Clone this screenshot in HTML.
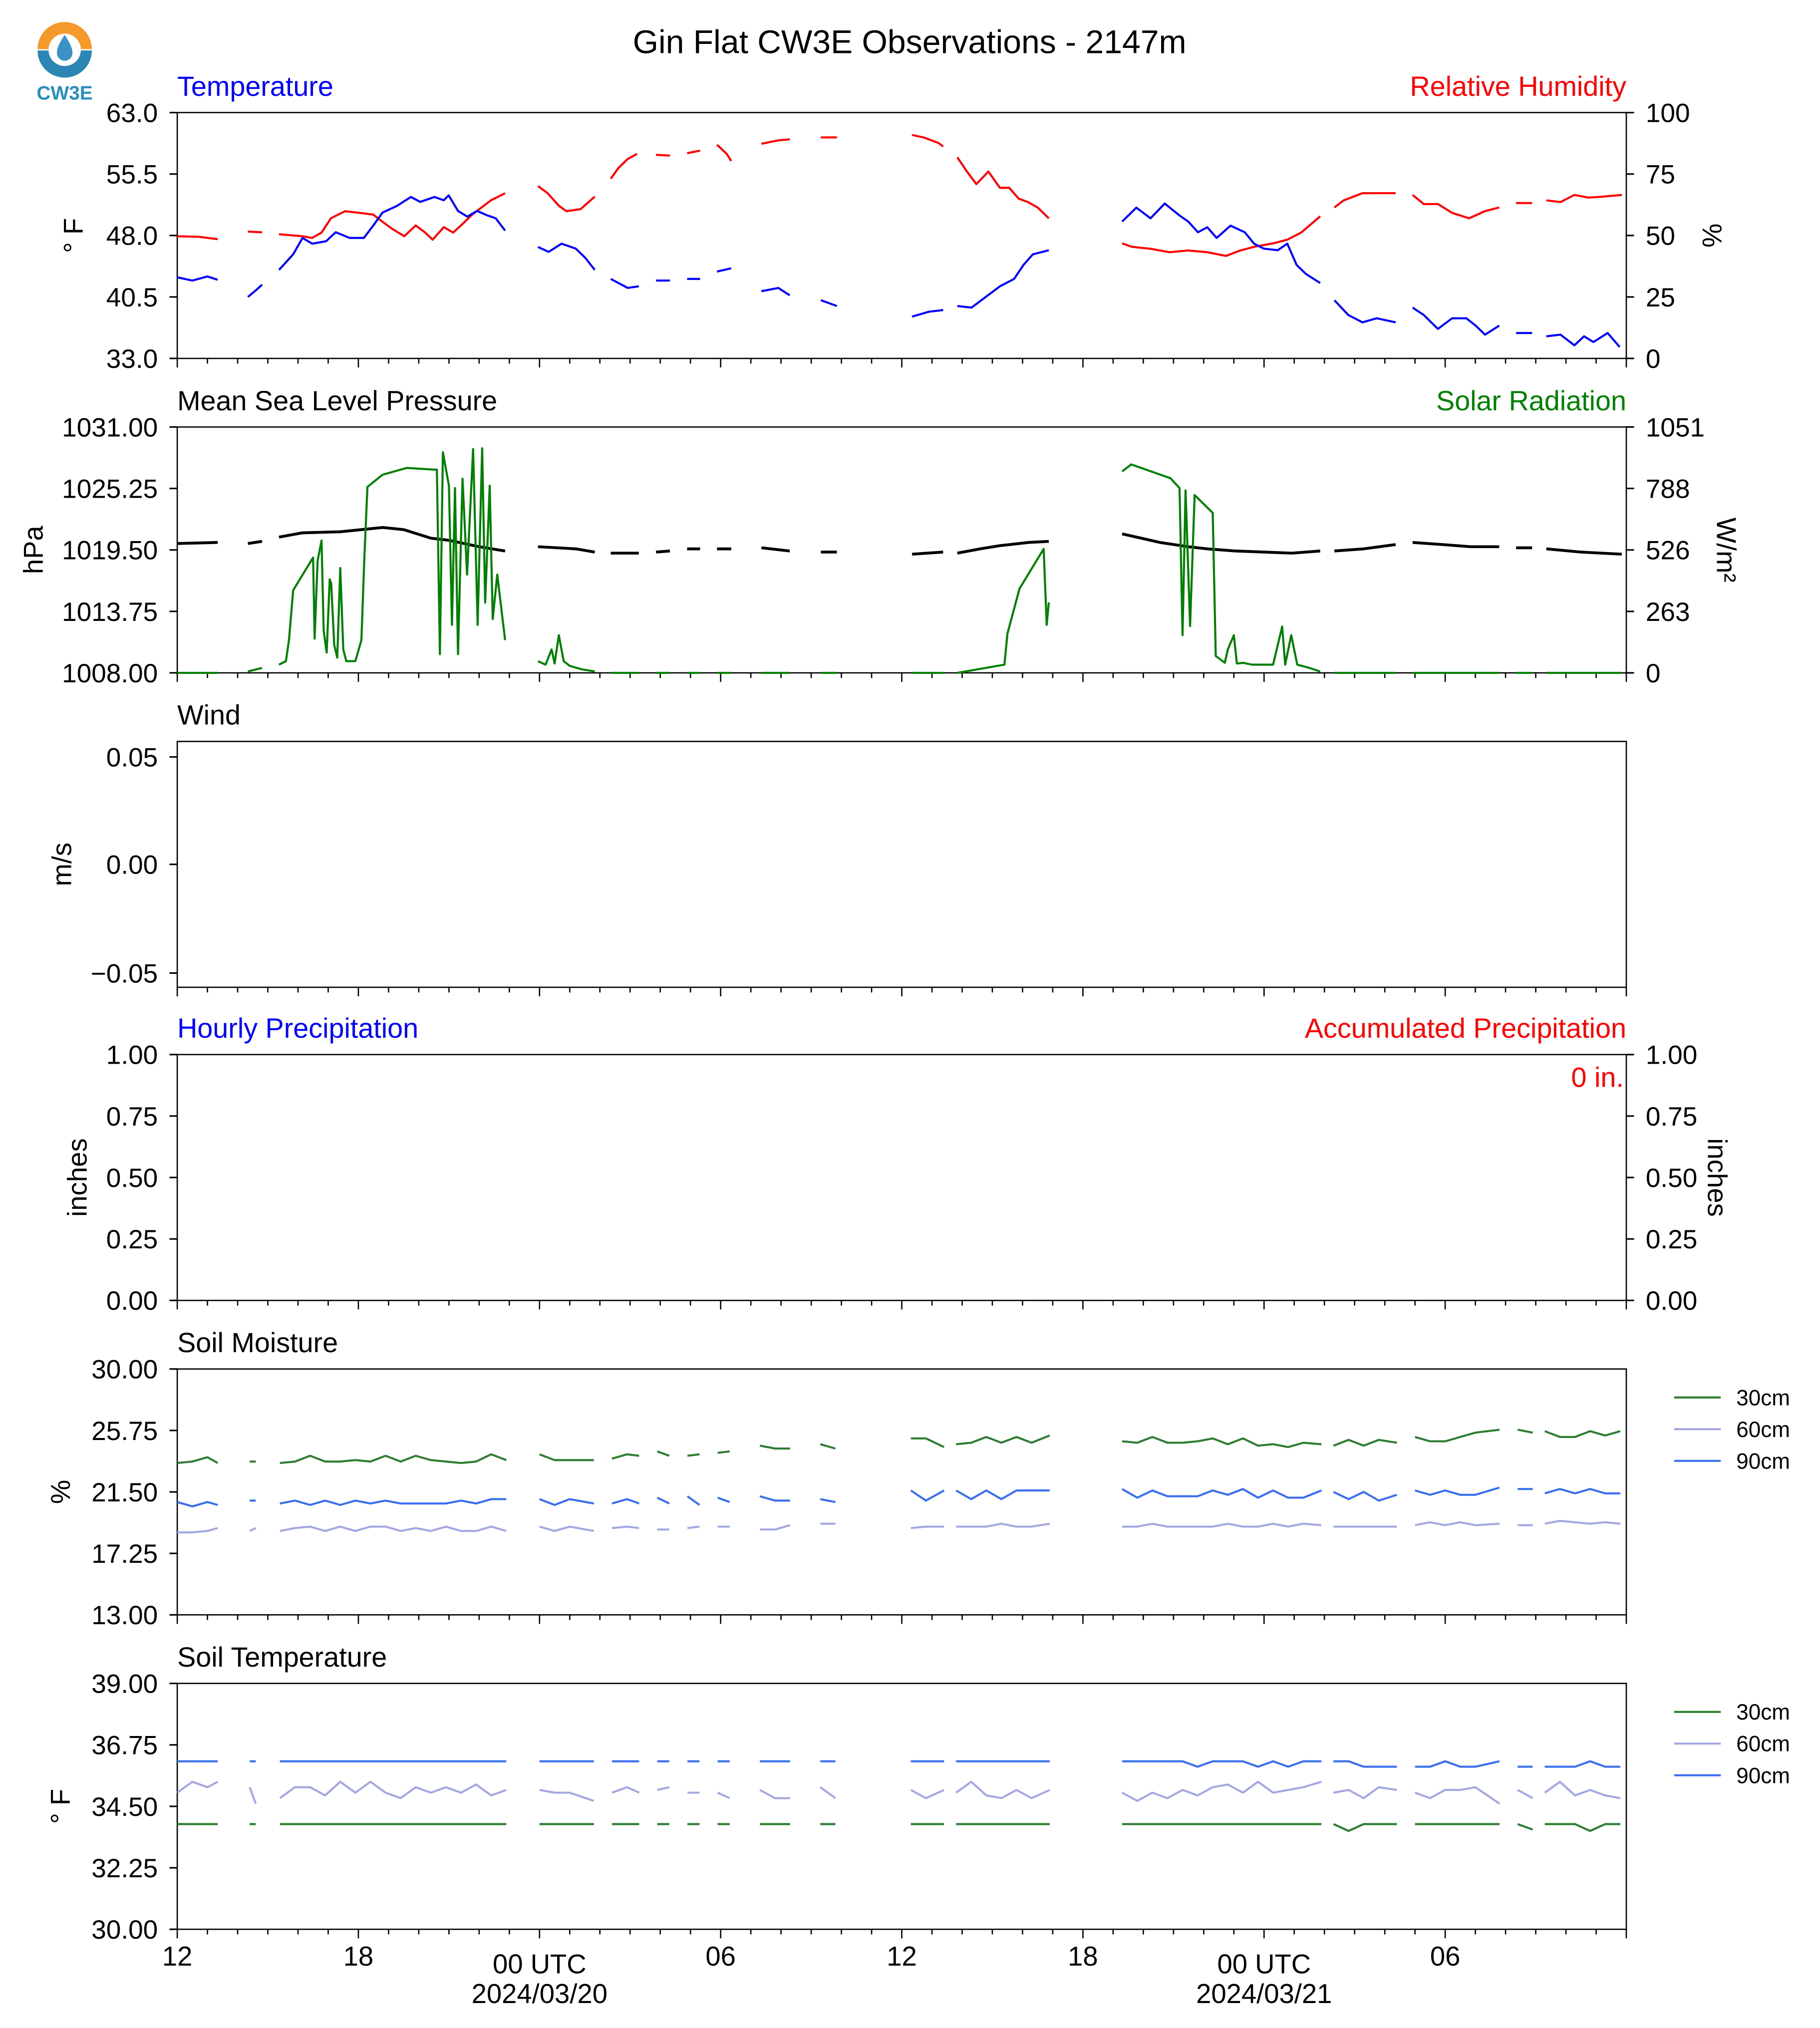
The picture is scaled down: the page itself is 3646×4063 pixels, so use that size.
<!DOCTYPE html>
<html><head><meta charset="utf-8"><title>Gin Flat CW3E Observations</title>
<style>
html,body{margin:0;padding:0;background:#fff;}
svg{display:block;font-family:"Liberation Sans",Arial,sans-serif;}
</style></head>
<body>
<svg id="chart" width="3646" height="4063" viewBox="0 0 1406.7 1567.3" preserveAspectRatio="none" xmlns="http://www.w3.org/2000/svg">
<rect x="0" y="0" width="1410" height="1570" fill="#fff"/>
<g>
  <path d="M29,38 A21,21 0 0 1 71,38 Z" fill="#f39a2a"/>
  <path d="M29,39 A21,21 0 0 0 71,39 Z" fill="#2b86b3"/>
  <circle cx="50" cy="38.5" r="12.5" fill="#fff"/>
  <path d="M50,27 C46,33 44,37 44,41 A6,6 0 0 0 56,41 C56,37 54,33 50,27 Z" fill="#3a93c4"/>
  <text x="50" y="77" text-anchor="middle" font-size="15" font-weight="bold" fill="#2a8fbd">CW3E</text>
</g>
<text x="703" y="41" text-anchor="middle" font-size="25.5" fill="#000">Gin Flat CW3E Observations - 2147m</text>
<g id="layer"></g>
</svg>
<script>
// ---------------- DATA ----------------
const HOUR_TICK_LABELS = ["12","18","00 UTC","06","12","18","00 UTC","06"];
const DATE_LABELS = ["2024/03/20","2024/03/21"];

const TEMP_T = [0,0.5,1,1.34,null,2.34,2.6,2.81,null,3.37,3.84,4.15,4.47,4.93,5.25,5.71,6.18,6.49,6.80,7.27,7.74,8.05,8.52,8.83,8.99,9.30,9.61,9.93,10.24,10.55,10.86,null,11.95,12.3,12.73,13.2,13.51,13.83,null,14.36,14.92,15.29,null,15.86,16.32,null,16.89,17.32,null,17.88,18.35,null,19.35,19.91,20.29,null,21.32,21.85,null,24.34,24.9,25.37,null,25.84,26.31,26.78,27.25,27.72,28.03,28.34,28.87,null,31.30,31.77,32.24,32.71,33.18,33.49,33.81,34.12,34.43,34.89,35.36,35.67,35.99,36.45,36.77,37.08,37.39,37.86,null,38.33,38.79,39.26,39.73,40.36,null,40.92,41.29,41.76,42.23,42.70,43.01,43.32,43.79,null,44.35,44.88,null,45.35,45.82,46.28,46.60,46.91,47.38,47.78];
const TEMP_F = [42.9,42.5,43.0,42.6,null,40.5,41.3,42.0,null,43.8,45.7,47.7,47.0,47.3,48.4,47.7,47.7,49.2,50.8,51.6,52.7,52.1,52.7,52.3,52.9,51.0,50.3,51.0,50.5,50.1,48.6,null,46.6,46.0,47.0,46.4,45.3,43.8,null,42.7,41.6,41.8,null,42.5,42.5,null,42.7,42.7,null,43.6,44.0,null,41.2,41.6,40.7,null,40.1,39.4,null,38.1,38.7,38.9,null,39.4,39.2,40.5,41.8,42.7,44.4,45.7,46.2,null,49.7,51.4,50.1,51.9,50.5,49.7,48.4,49.0,47.7,49.2,48.4,47.0,46.4,46.2,47.0,44.4,43.3,42.2,null,40.1,38.3,37.4,37.9,37.4,null,39.2,38.3,36.6,37.9,37.9,37.0,35.9,37.0,null,36.1,36.1,null,35.7,35.9,34.6,35.7,35.0,36.1,34.4];

const RH_T = [0,0.7,1.34,null,2.34,2.81,null,3.37,4.15,4.47,4.78,5.09,5.56,6.03,6.49,6.80,7.12,7.52,7.90,8.21,8.46,8.83,9.14,9.46,9.77,10.08,10.39,10.86,null,11.95,12.27,12.64,12.89,13.36,13.83,null,14.36,14.61,14.92,15.23,null,15.86,16.32,null,16.89,17.32,null,17.88,18.20,18.35,null,19.35,19.91,20.29,null,21.32,21.85,null,24.34,24.75,25.22,25.37,null,25.84,26.16,26.47,26.87,27.25,27.56,27.87,28.18,28.50,28.87,null,31.30,31.62,32.24,32.87,33.49,34.12,34.74,35.21,35.67,36.30,36.77,37.23,37.86,null,38.33,38.64,39.26,40.36,null,40.92,41.29,41.76,42.23,42.79,43.32,43.79,null,44.35,44.88,null,45.35,45.82,46.28,46.75,47.22,47.85];
const RH_PCT = [49.7,49.5,48.5,null,51.6,51.3,null,50.5,49.7,49.0,51.2,57.0,59.9,59.2,58.5,55.6,52.7,49.7,54.1,51.2,48.3,53.4,51.2,54.8,58.5,61.4,64.3,67.2,null,70.1,67.2,62.1,59.9,60.7,65.8,null,73.1,77.4,81.1,83.2,null,82.8,82.5,null,83.5,84.5,null,86.9,83.2,80.3,null,87.3,88.7,89.1,null,89.9,89.9,null,90.9,89.8,87.6,86.2,null,81.8,76.0,70.9,76.0,69.4,69.4,65.0,63.6,61.4,57.0,null,46.8,45.4,44.6,43.2,43.9,43.2,41.7,43.9,45.4,46.8,48.3,51.2,57.8,null,61.4,64.3,67.2,67.2,null,66.5,62.8,62.8,59.2,57.0,59.9,61.4,null,63.2,63.2,null,64.3,63.6,66.5,65.4,65.8,66.5];

const PRES_T = [0,1.34,null,2.34,2.81,null,3.37,4.15,5.4,6.8,7.5,8.4,9.0,10.0,10.86,null,11.95,13.2,13.83,null,14.36,15.29,null,15.86,16.32,null,16.89,17.32,null,17.88,18.35,null,19.35,20.29,null,21.32,21.85,null,24.34,25.37,null,25.84,26.6,27.25,28.2,28.87,null,31.30,31.93,32.55,33.49,34.12,35.05,35.99,36.92,37.86,null,38.33,39.3,40.36,null,40.92,41.92,42.85,43.79,null,44.35,44.88,null,45.35,46.5,47.85];
const PRES_HPA = [1020.1,1020.2,null,1020.1,1020.3,null,1020.7,1021.1,1021.2,1021.6,1021.4,1020.6,1020.4,1019.8,1019.4,null,1019.8,1019.6,1019.3,null,1019.2,1019.2,null,1019.3,1019.4,null,1019.6,1019.6,null,1019.6,1019.6,null,1019.7,1019.4,null,1019.3,1019.3,null,1019.1,1019.3,null,1019.2,1019.6,1019.9,1020.2,1020.3,null,1021.0,1020.6,1020.2,1019.8,1019.6,1019.4,1019.3,1019.2,1019.4,null,1019.4,1019.6,1020.0,null,1020.2,1020.0,1019.8,1019.8,null,1019.7,1019.7,null,1019.6,1019.3,1019.1];

const SOLAR_T = [0,1.34,null,2.34,2.81,null,3.37,3.6,3.7,3.84,4.5,4.55,4.65,4.78,4.85,4.95,5.05,5.1,5.2,5.3,5.4,5.5,5.6,5.9,6.1,6.2,6.3,6.8,7.6,8.5,8.6,8.7,8.8,9.0,9.1,9.2,9.3,9.45,9.6,9.8,9.95,10.1,10.2,10.35,10.45,10.6,10.86,null,11.95,12.2,12.4,12.5,12.64,12.8,13.0,13.4,13.83,null,14.36,15.29,null,15.86,16.32,null,16.89,17.32,null,17.88,18.35,null,19.35,20.29,null,21.32,21.85,null,24.34,25.37,null,25.84,27.4,27.5,27.9,28.7,28.8,28.87,null,31.30,31.6,32.9,33.2,33.3,33.4,33.55,33.7,34.3,34.4,34.7,34.8,35.0,35.1,35.3,35.6,36.3,36.6,36.7,36.9,37.1,37.5,37.86,null,38.33,40.36,null,40.92,43.79,null,44.35,44.88,null,45.35,47.85];
const SOLAR_W = [0,0,null,6,21,null,35,50,139,353,493,146,480,566,180,87,400,382,120,65,448,100,50,50,140,500,795,847,876,869,869,80,943,800,205,790,80,830,420,957,205,960,300,800,230,420,140,null,50,35,100,40,161,50,30,15,6,null,0,0,null,0,0,null,0,0,null,0,0,null,0,0,null,0,0,null,0,0,null,0,35,168,360,530,205,301,null,861,891,832,790,161,780,200,760,684,72,43,100,161,40,43,35,35,198,35,161,35,21,6,null,0,0,null,0,0,null,0,0,null,0,0];

const SOIL_T = [0,0.5,1,1.34,null,2.4,2.6,null,3.4,3.9,4.4,4.9,5.4,5.9,6.4,6.9,7.4,7.9,8.4,8.9,9.4,9.9,10.4,10.9,null,12,12.5,13,13.8,null,14.4,14.9,15.3,null,15.9,16.3,null,16.9,17.3,null,17.9,18.3,null,19.3,19.8,20.3,null,21.3,21.8,null,24.3,24.8,25.4,null,25.8,26.3,26.8,27.3,27.8,28.3,28.9,null,31.3,31.8,32.3,32.8,33.3,33.8,34.3,34.8,35.3,35.8,36.3,36.8,37.3,37.9,null,38.3,38.8,39.3,39.8,40.4,null,41,41.5,42,42.5,43,43.8,null,44.4,44.9,null,45.3,45.8,46.3,46.8,47.3,47.8];
const SM_30 = [23.5,23.6,23.9,23.5,null,23.6,23.6,null,23.5,23.6,24.0,23.6,23.6,23.7,23.6,24.0,23.6,24.0,23.7,23.6,23.5,23.6,24.1,23.7,null,24.1,23.7,23.7,23.7,null,23.8,24.1,24.0,null,24.3,24.0,null,24.0,24.1,null,24.2,24.3,null,24.7,24.5,24.5,null,24.8,24.5,null,25.2,25.2,24.6,null,24.8,24.9,25.3,24.9,25.3,24.9,25.4,null,25.0,24.9,25.3,24.9,24.9,25.0,25.2,24.8,25.2,24.7,24.8,24.6,24.9,24.8,null,24.7,25.1,24.7,25.1,24.9,null,25.3,25.0,25.0,25.3,25.6,25.8,null,25.8,25.6,null,25.7,25.3,25.3,25.7,25.4,25.7];
const SM_60 = [18.7,18.7,18.8,19.0,null,18.8,19.0,null,18.8,19.0,19.1,18.8,19.1,18.8,19.1,19.1,18.8,19.0,18.8,19.1,18.8,18.8,19.1,18.8,null,19.1,18.8,19.1,18.8,null,19.0,19.1,19.0,null,18.9,18.9,null,19.0,19.1,null,19.1,19.1,null,18.9,18.9,19.2,null,19.3,19.3,null,19.0,19.1,19.1,null,19.1,19.1,19.1,19.3,19.1,19.1,19.3,null,19.1,19.1,19.3,19.1,19.1,19.1,19.1,19.3,19.1,19.1,19.3,19.1,19.3,19.2,null,19.1,19.1,19.1,19.1,19.1,null,19.2,19.4,19.2,19.4,19.2,19.3,null,19.2,19.2,null,19.3,19.5,19.4,19.3,19.4,19.3];
const SM_90 = [20.8,20.5,20.8,20.6,null,20.9,20.9,null,20.7,20.9,20.6,20.9,20.6,20.9,20.7,20.9,20.7,20.7,20.7,20.7,20.9,20.7,21.0,21.0,null,21.0,20.6,21.0,20.7,null,20.7,21.0,20.7,null,21.1,20.7,null,21.2,20.6,null,21.1,20.8,null,21.2,20.9,20.9,null,21.0,20.8,null,21.6,20.9,21.6,null,21.6,21.0,21.6,21.0,21.6,21.6,21.6,null,21.7,21.1,21.6,21.2,21.2,21.2,21.6,21.3,21.7,21.1,21.6,21.1,21.1,21.6,null,21.5,21.0,21.5,20.9,21.3,null,21.6,21.3,21.6,21.3,21.3,21.8,null,21.7,21.7,null,21.4,21.7,21.4,21.7,21.4,21.4];

const ST_30 = [33.85,33.85,33.85,33.85,null,33.85,33.85,null,33.85,33.85,33.85,33.85,33.85,33.85,33.85,33.85,33.85,33.85,33.85,33.85,33.85,33.85,33.85,33.85,null,33.85,33.85,33.85,33.85,null,33.85,33.85,33.85,null,33.85,33.85,null,33.85,33.85,null,33.85,33.85,null,33.85,33.85,33.85,null,33.85,33.85,null,33.85,33.85,33.85,null,33.85,33.85,33.85,33.85,33.85,33.85,33.85,null,33.85,33.85,33.85,33.85,33.85,33.85,33.85,33.85,33.85,33.85,33.85,33.85,33.85,33.85,null,33.85,33.6,33.85,33.85,33.85,null,33.85,33.85,33.85,33.85,33.85,33.85,null,33.85,33.65,null,33.85,33.85,33.85,33.6,33.85,33.85];
const ST_60 = [35.0,35.4,35.2,35.4,null,35.2,34.6,null,34.8,35.2,35.2,34.9,35.4,35.0,35.4,35.0,34.8,35.2,35.0,35.2,35.0,35.3,34.9,35.1,null,35.1,35.0,35.0,34.7,null,35.0,35.2,35.0,null,35.1,35.2,null,35.0,35.0,null,35.0,34.8,null,35.1,34.8,34.8,null,35.2,34.8,null,35.1,34.8,35.1,null,35.0,35.4,34.9,34.8,35.1,34.8,35.1,null,35.0,34.7,35.0,34.8,35.1,34.9,35.2,35.3,35.0,35.4,35.0,35.1,35.2,35.4,null,35.0,35.1,34.8,35.2,35.1,null,35.0,34.8,35.1,35.1,35.2,34.6,null,35.1,34.8,null,35.0,35.4,34.9,35.1,34.9,34.8];
const ST_90 = [36.15,36.15,36.15,36.15,null,36.15,36.15,null,36.15,36.15,36.15,36.15,36.15,36.15,36.15,36.15,36.15,36.15,36.15,36.15,36.15,36.15,36.15,36.15,null,36.15,36.15,36.15,36.15,null,36.15,36.15,36.15,null,36.15,36.15,null,36.15,36.15,null,36.15,36.15,null,36.15,36.15,36.15,null,36.15,36.15,null,36.15,36.15,36.15,null,36.15,36.15,36.15,36.15,36.15,36.15,36.15,null,36.15,36.15,36.15,36.15,36.15,35.95,36.15,36.15,36.15,35.95,36.15,35.95,36.15,36.15,null,36.15,36.15,35.95,35.95,35.95,null,35.95,35.95,36.15,35.95,35.95,36.15,null,35.95,35.95,null,35.95,35.95,35.95,36.15,35.95,35.95];

const T_TICKS = ["63.0","55.5","48.0","40.5","33.0"];
const RH_TICKS = ["100","75","50","25","0"];
const P_TICKS = ["1031.00","1025.25","1019.50","1013.75","1008.00"];
const SR_TICKS = ["1051","788","526","263","0"];
const W_TICKS = ["0.05","0.00","\u22120.05"];
const PR_TICKS = ["1.00","0.75","0.50","0.25","0.00"];
const SM_TICKS = ["30.00","25.75","21.50","17.25","13.00"];
const ST_TICKS = ["39.00","36.75","34.50","32.25","30.00"];

// ---------------- LAYOUT ----------------
const NS = "http://www.w3.org/2000/svg";
const layer = document.getElementById('layer');
const X0 = 137, X1 = 1257, PH = 190, HOURS = 48;
const TOPS = [87, 330, 573, 815, 1058, 1301];
const TICK_FS = 20.5, TITLE_FS = 21.5;
function xs(h){ return X0 + h * (X1 - X0) / HOURS; }
function yScale(top, min, max){ return v => top + PH - (v - min) / (max - min) * PH; }

function mk(tag, attrs, parent){
  const e = document.createElementNS(NS, tag);
  for (const k in attrs) e.setAttribute(k, attrs[k]);
  (parent || layer).appendChild(e);
  return e;
}
function txt(x, y, s, size, color, anchor, parent){
  const t = mk('text', {x:x, y:y, 'font-size':size, fill:color, 'text-anchor':anchor||'start'}, parent);
  t.textContent = s;
  return t;
}
function seriesPath(ts, vs, ys, color, width, name){
  let d = '', pen = false;
  for (let i = 0; i < ts.length; i++){
    if (ts[i] === null || vs[i] === null){ pen = false; continue; }
    d += (pen ? 'L' : 'M') + xs(ts[i]).toFixed(2) + ',' + ys(vs[i]).toFixed(2);
    pen = true;
  }
  const p = mk('path', {d:d, fill:'none', stroke:color, 'stroke-width':width, 'stroke-linejoin':'round'});
  
  
  return p;
}

function panel(i, name, leftTicks, rightTicks){
  const top = TOPS[i];
  const g = mk('g', {});
  
  
  const box = mk('rect', {x:X0, y:top, width:X1-X0, height:PH, fill:'none', stroke:'#000', 'stroke-width':1}, g);
  
  
  for (let h = 0; h <= HOURS; h++){
    const major = h % 6 === 0;
    mk('line', {x1:xs(h), x2:xs(h), y1:top+PH, y2:top+PH+(major?7:4), stroke:'#000', 'stroke-width':1}, g);
  }
  if (leftTicks){
    const n = leftTicks.length;
    leftTicks.forEach((lab, k) => {
      const y = i === 2 ? [585, 668, 752][k] : top + k * PH / (n - 1);
      mk('line', {x1:X0-6, x2:X0, y1:y, y2:y, stroke:'#000', 'stroke-width':1.2}, g);
      const t = txt(X0-15, y+7.3, lab, TICK_FS, '#000', 'end', g);
      
      
    });
  }
  if (rightTicks){
    const n = rightTicks.length;
    rightTicks.forEach((lab, k) => {
      const y = top + k * PH / (n - 1);
      mk('line', {x1:X1, x2:X1+6, y1:y, y2:y, stroke:'#000', 'stroke-width':1.2}, g);
      const t = txt(X1+15, y+7.3, lab, TICK_FS, '#000', 'start', g);
      
      
    });
  }
  return g;
}
function rotLabel(x, y, s, deg, name){
  const t = txt(0, 0, s, 21, '#000', 'middle');
  t.setAttribute('transform', 'translate(' + x + ',' + y + ') rotate(' + deg + ')');
  
  
}
function title(x, y, s, color, anchor, name){
  const t = txt(x, y, s, TITLE_FS, color, anchor);
  
  
}

panel(0, 'temperature-panel', T_TICKS, RH_TICKS);
title(137, 74, 'Temperature', '#0000ff', 'start', 'temperature-title');
title(1257, 74, 'Relative Humidity', '#ff0000', 'end', 'humidity-title');
rotLabel(64, 182, '\u00b0 F', -90, 'temperature-axis-title');
rotLabel(1316, 182, '%', 90, 'humidity-axis-title');
seriesPath(RH_T, RH_PCT, yScale(TOPS[0], 0, 100), '#ff0000', 1.6, 'humidity-line');
seriesPath(TEMP_T, TEMP_F, yScale(TOPS[0], 33, 63), '#0000ff', 1.6, 'temperature-line');

panel(1, 'pressure-panel', P_TICKS, SR_TICKS);
title(137, 317, 'Mean Sea Level Pressure', '#000', 'start', 'pressure-title');
title(1257, 317, 'Solar Radiation', '#008000', 'end', 'solar-title');
rotLabel(33, 425, 'hPa', -90, 'pressure-axis-title');
rotLabel(1327, 425, 'W/m\u00b2', 90, 'solar-axis-title');
seriesPath(PRES_T, PRES_HPA, yScale(TOPS[1], 1008, 1031), '#000', 2.2, 'pressure-line');
seriesPath(SOLAR_T, SOLAR_W, yScale(TOPS[1], 0, 1051), '#008000', 1.6, 'solar-line');

panel(2, 'wind-panel', W_TICKS, null);
title(137, 560, 'Wind', '#000', 'start', 'wind-title');
rotLabel(55, 668, 'm/s', -90, 'wind-axis-title');

panel(3, 'precip-panel', PR_TICKS, PR_TICKS);
title(137, 802, 'Hourly Precipitation', '#0000ff', 'start', 'hourly-precip-title');
title(1257, 802, 'Accumulated Precipitation', '#ff0000', 'end', 'accum-precip-title');
rotLabel(67, 910, 'inches', -90, 'precip-axis-title');
rotLabel(1320, 910, 'inches', 90, 'accum-axis-title');
(function(){ const t = txt(1255, 840, '0 in.', TITLE_FS, '#ff0000', 'end');

 })();

const C30 = '#2e7d32', C60 = '#a4a8e2', C90 = '#3a6ff0';
panel(4, 'soil-moisture-panel', SM_TICKS, null);
title(137, 1045, 'Soil Moisture', '#000', 'start', 'soil-moisture-title');
rotLabel(54, 1153, '%', -90, 'soil-moisture-axis-title');
const ySM = yScale(TOPS[4], 13, 30);
seriesPath(SOIL_T, SM_30, ySM, C30, 1.6, 'sm-30cm-line');
seriesPath(SOIL_T, SM_60, ySM, C60, 1.6, 'sm-60cm-line');
seriesPath(SOIL_T, SM_90, ySM, C90, 1.6, 'sm-90cm-line');

panel(5, 'soil-temp-panel', ST_TICKS, null);
title(137, 1288, 'Soil Temperature', '#000', 'start', 'soil-temp-title');
rotLabel(54, 1396, '\u00b0 F', -90, 'soil-temp-axis-title');
const yST = yScale(TOPS[5], 30, 39);
seriesPath(SOIL_T, ST_30, yST, C30, 1.6, 'st-30cm-line');
seriesPath(SOIL_T, ST_60, yST, C60, 1.6, 'st-60cm-line');
seriesPath(SOIL_T, ST_90, yST, C90, 1.6, 'st-90cm-line');

const LEG_LABELS = ['30cm','60cm','90cm'];
const LEG_COLORS = [C30, C60, C90];
[1080, 1323].forEach((y0, pi) => {
  LEG_LABELS.forEach((lab, k) => {
    const y = y0 + k * 24.5;
    const l = mk('line', {x1:1294, x2:1330, y1:y, y2:y, stroke:LEG_COLORS[k], 'stroke-width':1.6});
    
    
    const t = txt(1342, y+6, lab, 17, '#000', 'start');
    
    
  });
});

HOUR_TICK_LABELS.forEach((lab, k) => {
  const x = xs(k * 6);
  const isDay = lab.indexOf('UTC') >= 0;
  const t = txt(x, isDay ? 1525 : 1519, lab, 21, '#000', 'middle');
  
  
});
DATE_LABELS.forEach((lab, k) => {
  const t = txt(xs(12 + 24 * k), 1548, lab, 21, '#000', 'middle');
  
  
});
</script>
</body></html>
